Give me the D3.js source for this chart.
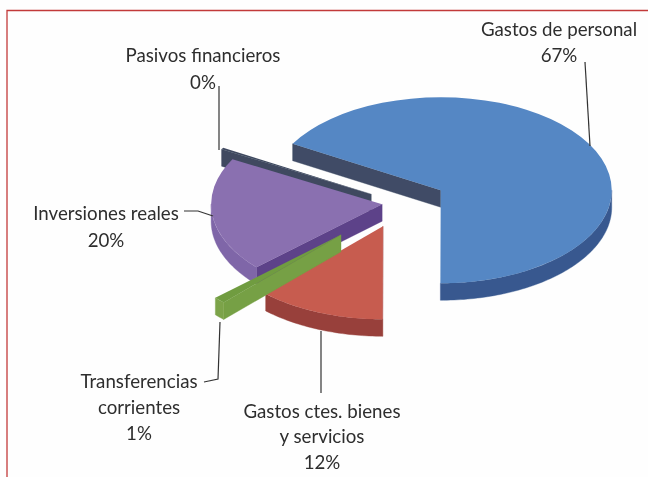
<!DOCTYPE html>
<html><head><meta charset="utf-8">
<script src="https://cdn.jsdelivr.net/npm/d3@7"></script>
<style>html,body{margin:0;padding:0;background:#fff}svg{display:block}</style>
</head><body><div id="c"></div>
<script>
// data
const categories = ["Gastos de personal","Gastos ctes. bienes y servicios","Transferencias corrientes","Inversiones reales","Pasivos financieros"];
const values = [66.7,12,1.1,19.9,0.3];
const percentLabels = ["67%","12%","1%","20%","0%"];

// layout & style
const W=648,H=477, cx=400, cy=203, R=171, k=0.544, depth=17;
const explode=[47,46,83,18,33];
const faceCol=["#5587c4","#c75b50","#6f9c40","#8a6fb0","#3f4a60"];
const outerCol=["#37598f","#98403a","#7ca348","#7f66a8","#3f4a60"];
const innerCol=["#3f4c66","#98403a","#76a044","#5d4289","#3f4a60"];
const drawOrder=[4,0,3,1,2];
const labelLines=[
 {x:559,ys:[36,62],t:["Gastos de personal","67%"]},
 {x:322,ys:[418,443,469],t:["Gastos ctes. bienes","y servicios","12%"]},
 {x:139,ys:[388,414,440],t:["Transferencias","corrientes","1%"]},
 {x:106,ys:[220,247],t:["Inversiones reales","20%"]},
 {x:203,ys:[62,89],t:["Pasivos financieros","0%"]}
];
const leaders=[
 [[585,62],[590,146]],
 [[321,331],[321,393]],
 [[220,322],[218,379],[204,382]],
 [[184,211],[198,211],[213,216]],
 [[219,86],[219,150]]
];

const svg=d3.select("#c").append("svg").attr("width",W).attr("height",H);
const defs=svg.append("defs");
defs.append("filter").attr("id","soft").append("feGaussianBlur").attr("stdDeviation",0.7);
defs.append("filter").attr("id","softT").append("feGaussianBlur").attr("stdDeviation",0.45);

svg.append("rect").attr("width",W).attr("height",H).attr("fill","#fefefe");
// frame
svg.append("path").attr("d",d3.line()([[7,H],[7,10.5],[W,10.5]]))
  .attr("fill","none").attr("stroke","#c23a3a").attr("stroke-width",1.3);

const arcs=d3.pie().sort(null).value(d=>d)
  .startAngle(300*Math.PI/180).endAngle(660*Math.PI/180)(values);
const arcGen=d3.arc().innerRadius(0).outerRadius(R);
const g=svg.append("g").attr("filter","url(#soft)");
const TAU=2*Math.PI;

function wall(points,fill){
  const top=points, bot=points.map(p=>[p[0],p[1]+depth]).reverse();
  g.append("path").attr("d",d3.line()(top.concat(bot))+"Z").attr("fill",fill).attr("stroke",fill).attr("stroke-width",0.4);
}
drawOrder.forEach(i=>{
  const a=arcs[i], mid=(a.startAngle+a.endAngle)/2;
  const ox=cx+explode[i]*Math.sin(mid), oy=cy-explode[i]*Math.cos(mid)*k;
  const pt=(ang,r)=>[ox+r*Math.sin(ang),oy-r*Math.cos(ang)*k];
  const s=((a.startAngle%TAU)+TAU)%TAU;
  if(s>Math.PI) wall([pt(a.startAngle,0),pt(a.startAngle,R)],innerCol[i]);
  const e=((a.endAngle%TAU)+TAU)%TAU;
  if(e<Math.PI && e>0.001) wall([pt(a.endAngle,0),pt(a.endAngle,R)],innerCol[i]);
  [[Math.PI/2,3*Math.PI/2],[Math.PI/2+TAU,3*Math.PI/2+TAU]].forEach(([lo,hi])=>{
    const a0=Math.max(a.startAngle,lo), a1=Math.min(a.endAngle,hi);
    if(a1>a0){
      const n=Math.max(2,Math.ceil((a1-a0)/0.02));
      wall(d3.range(n+1).map(j=>pt(a0+(a1-a0)*j/n,R)),outerCol[i]);
    }
  });
  g.append("path").attr("d",arcGen(a))
    .attr("transform",`translate(${ox},${oy}) scale(1,${k})`)
    .attr("fill",faceCol[i]);
});

// leader lines
svg.append("g").attr("filter","url(#softT)").selectAll("path").data(leaders).join("path")
  .attr("d",d=>d3.line()(d)).attr("fill","none").attr("stroke","#333").attr("stroke-width",1.2);

// labels
const tg=svg.append("g").attr("filter","url(#softT)")
  .attr("font-family","Lato, 'Open Sans', sans-serif").attr("font-size",18.7)
  .attr("fill","#2e2e2e").attr("text-anchor","middle");
labelLines.forEach(l=>l.t.forEach((t,i)=>{
  tg.append("text").attr("x",l.x).attr("y",l.ys[i]).text(t);
}));
</script></body></html>
